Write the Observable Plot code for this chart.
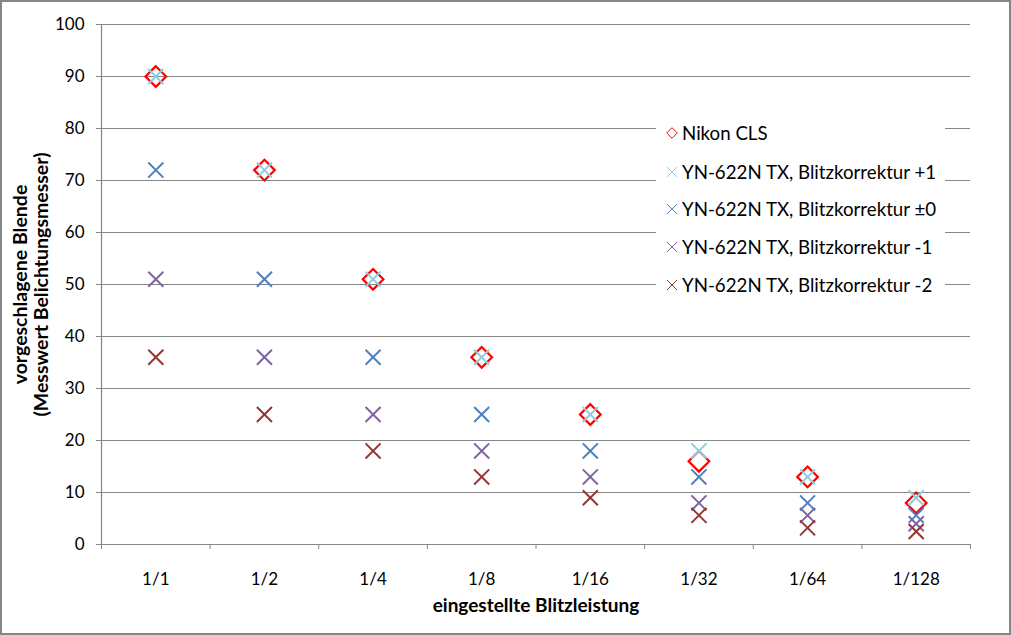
<!DOCTYPE html>
<html>
<head>
<meta charset="utf-8">
<script src="https://cdn.jsdelivr.net/npm/d3@7"></script>
<script src="https://cdn.jsdelivr.net/npm/@observablehq/plot@0.6"></script>
<style>
  html, body { margin: 0; padding: 0; background: #fff; }
  #wrap { position: relative; width: 1011px; height: 635px; overflow: hidden; font-family: Lato, "Open Sans", sans-serif; }
  #border { position: absolute; left: 0; top: 0; width: 1011px; height: 635px; box-sizing: border-box; border: 2px solid #868686; pointer-events: none; }
  #legend { position: absolute; left: 656px; top: 112px; width: 289px; height: 190px; background: #fff; font-size: 18.7px; color: #000; }
  #legend .item { position: absolute; left: 0; height: 22px; display: flex; align-items: center; white-space: nowrap; }
  #legend svg { margin-left: 10px; margin-right: 4px; }
</style>
</head>
<body>
<div id="wrap"><div id="border"></div></div>
<script>
// Flash power settings on the x axis
const categories = ["1/1", "1/2", "1/4", "1/8", "1/16", "1/32", "1/64", "1/128"];

// Suggested aperture read by the light meter, one array per series
const nikonCLS = [90, 72, 51, 36, 25, 16, 13, 8];
const ynPlus1  = [90, 72, 51, 36, 25, 18, 13, 9];
const ynZero   = [72, 51, 36, 25, 18, 13, 8, 5.6];
const ynMinus1 = [51, 36, 25, 18, 13, 8, 5.6, 4];
const ynMinus2 = [36, 25, 18, 13, 9, 5.6, 3.2, 2.5];

const yTicks = [0, 10, 20, 30, 40, 50, 60, 70, 80, 90, 100];

const series = [
  {name: "Nikon CLS", values: nikonCLS, color: "#FF0000", symbol: "diamond2"},
  {name: "YN-622N TX, Blitzkorrektur +1", values: ynPlus1, color: "#93CDDD", symbol: "times"},
  {name: "YN-622N TX, Blitzkorrektur \u00B10", values: ynZero, color: "#4F81BD", symbol: "times"},
  {name: "YN-622N TX, Blitzkorrektur -1", values: ynMinus1, color: "#8064A2", symbol: "times"},
  {name: "YN-622N TX, Blitzkorrektur -2", values: ynMinus2, color: "#943634", symbol: "times"}
];

const rows = series.flatMap(s => s.values.map((v, i) => ({pos: i + 1, cat: categories[i], value: v, series: s.name})));

const positions = categories.map((c, i) => i + 1);
const bounds = d3.range(0, categories.length + 1).map(i => i + 0.5);
const grid = "#868686";
const font = "Lato, 'Open Sans', sans-serif";

const chart = Plot.plot({
  width: 1011,
  height: 635,
  marginLeft: 101,
  marginRight: 41,
  marginTop: 24,
  marginBottom: 91,
  style: {fontFamily: font, fontSize: "17px", color: "#000", background: "transparent"},
  x: {type: "linear", domain: [0.5, categories.length + 0.5]},
  y: {domain: [0, 100]},
  marks: [
    Plot.ruleY(yTicks, {stroke: grid, strokeWidth: 1.2}),
    Plot.ruleX([0.5], {stroke: grid, strokeWidth: 1.2}),
    Plot.axisY({ticks: yTicks, tickSize: 5, tickPadding: 12, stroke: grid, label: null, fontSize: 17}),
    Plot.axisX({ticks: bounds, tickSize: 5, tickFormat: () => "", stroke: grid, label: null}),
    Plot.axisX({ticks: positions, tickSize: 0, tickPadding: 28, tickFormat: i => categories[i - 1], label: null, fontSize: 17}),
    Plot.text(["eingestellte Blitzleistung"], {frameAnchor: "bottom", dy: 61, lineAnchor: "middle", fontWeight: "bold", fontSize: 19, fill: "#000"}),
    Plot.text(["vorgeschlagene Blende\n(Messwert Belichtungsmesser)"], {frameAnchor: "left", dx: -71, rotate: -90, textAnchor: "middle", lineAnchor: "middle", lineHeight: 1.1, fontWeight: "bold", fontSize: 19.5, fill: "#000"}),
    ...series.map(s => Plot.dot(rows.filter(d => d.series === s.name), {
      x: "pos", y: "value", symbol: () => s.symbol,
      r: s.symbol === "diamond2" ? 9.3 : 6.9,
      stroke: s.color, fill: "none", strokeWidth: s.symbol === "diamond2" ? 2.2 : 2
    }))
  ]
});

const wrap = document.getElementById("wrap");
wrap.insertBefore(chart, wrap.firstChild);

// Legend box inside the plot area
const legend = document.createElement("div");
legend.id = "legend";
const rowTops = [10, 49, 86, 124, 162];
series.forEach((s, k) => {
  const item = document.createElement("div");
  item.className = "item";
  item.style.top = rowTops[k] + "px";
  const mark = s.symbol === "diamond2"
    ? `<path d="M6,0.7 L11.3,6 L6,11.3 L0.7,6 Z" fill="none" stroke="${s.color}" stroke-width="1"/>`
    : `<path d="M1,1 L11,11 M1,11 L11,1" fill="none" stroke="${s.color}" stroke-width="1"/>`;
  item.innerHTML = `<svg width="12" height="12" viewBox="0 0 12 12">${mark}</svg><span>${s.name}</span>`;
  legend.appendChild(item);
});
wrap.appendChild(legend);
</script>
</body>
</html>
